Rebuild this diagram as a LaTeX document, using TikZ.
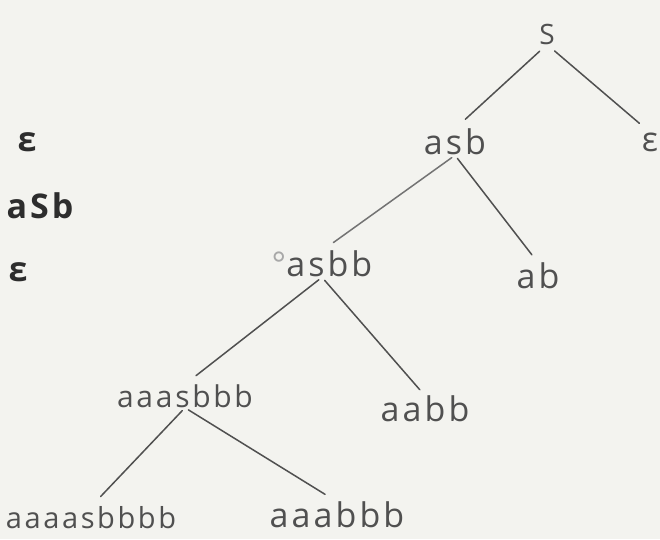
\documentclass[tikz,border=0pt]{standalone}
\usepackage{fontspec}
\newfontfamily\handfont[LetterSpace=9]{Open Sans}
\definecolor{pencil}{RGB}{80,80,80}
\definecolor{ink}{RGB}{45,45,45}
\definecolor{paper}{RGB}{243,243,239}

\tikzset{
  word/.style={text=pencil, font=\handfont\fontsize{34}{34}\selectfont, inner sep=0pt},
  small word/.style={word, font=\handfont\fontsize{30}{30}\selectfont},
  rule/.style={word, text=ink, font=\handfont\bfseries\fontsize{34}{34}\selectfont},
  branch/.style={draw=pencil, line width=1.5pt, line cap=round, shorten >=14pt, shorten <=4pt}
}

\begin{document}
\begin{tikzpicture}[x=1pt,y=-1pt]
  \fill[paper] (0,0) rectangle (660,539);
  \useasboundingbox (0,0) rectangle (660,539);

  % Productions cut at the left edge
  \node[rule] (p1) at (27,142) {ε};
  \node[rule] (p2) at (40,206) {aSb};
  \node[rule] (p3) at (18,272) {ε};

  % Derivation tree
  \node[word, font=\handfont\fontsize{28}{28}\selectfont] (s) at (547,34) {S};
  \node[word] (asb)    at (455,142) {asb};
  \node[word] (eps)    at (650,142) {ε};
  \node[word] (asbb)   at (322,264) {{\color{pencil!50}°}asbb};
  \node[word] (ab)     at (538,276) {ab};
  \node[small word] (aaasb) at (185,396) {aaasbbb};
  \node[word] (aabb)   at (425,409) {aabb};
  \node[word, font=\handfont\fontsize{29}{29}\selectfont] (aaaasb) at (91,518) {aaaasbbbb};
  \node[word] (aaabbb) at (337,515) {aaabbb};

  \draw[branch, shorten <=10pt] (s.south) -- (asb.north);
  \draw[branch, shorten <=10pt] (s.south) -- (eps.north);
  \draw[branch, draw=pencil!80] (asb.south) -- (asbb.north);
  \draw[branch, shorten >=10pt] (asb.south) -- (ab.north);
  \draw[branch] (asbb.south) -- (aaasb.north);
  \draw[branch, shorten >=8pt] (asbb.south) -- (aabb.north);
  \draw[branch] (aaasb.south) -- (aaaasb.north);
  \draw[branch] (aaasb.south) -- (aaabbb.north);
\end{tikzpicture}
\end{document}
